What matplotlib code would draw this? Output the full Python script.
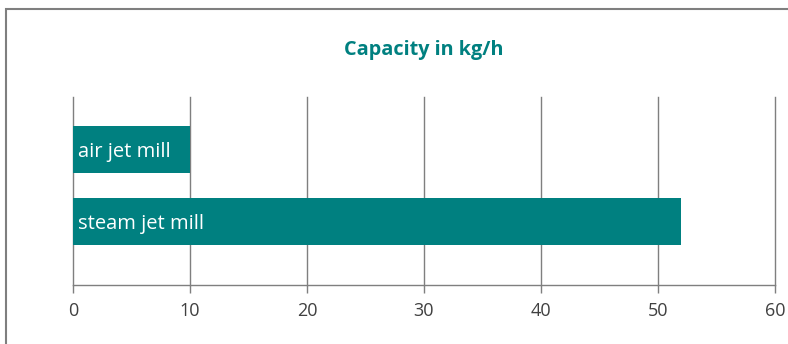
import matplotlib
matplotlib.use("Agg")
import matplotlib.pyplot as plt
from matplotlib.patches import Rectangle

mills = ["steam jet mill", "air jet mill"]
capacity = [52, 10]
ticks = [0, 10, 20, 30, 40, 50, 60]

teal = "#008080"
grey = "#7f7f7f"

plt.rcParams["font.family"] = ["Open Sans", "DejaVu Sans"]

fig = plt.figure(figsize=(7.88, 3.44), dpi=100)
ax = fig.add_axes([73 / 788, 59 / 344, 702 / 788, 188 / 344])

# frame around the whole chart (only left and top visible in the original)
fig.patches.append(Rectangle((5.5 / 788, -0.1), 1.2, (344 - 8.5) / 344 + 0.1,
                             transform=fig.transFigure, fill=False,
                             edgecolor=grey, linewidth=1.5, zorder=0))

ypos = list(range(len(mills)))
ax.barh(ypos, capacity, height=0.65, color=teal, zorder=3)
for y, name in zip(ypos, mills):
    ax.text(0.45, y, name, color="white", fontsize=14.5, va="center_baseline",
            ha="left", zorder=4)

ax.set_xlim(0, 60)
ax.set_ylim(-0.882, 1.729)
ax.set_xticks(ticks)
ax.set_yticks([])
ax.grid(axis="x", color=grey, linewidth=1)
for gl in ax.get_xgridlines():
    gl.set_clip_on(False)
ax.set_axisbelow(True)
for s in ["top", "right", "left"]:
    ax.spines[s].set_visible(False)
ax.spines["bottom"].set_color(grey)
ax.spines["bottom"].set_linewidth(1)
ax.tick_params(axis="x", length=6, width=1, color=grey, labelcolor="#404040",
               labelsize=13, pad=6)

fig.text(424 / 788, 1 - 50 / 344, "Capacity in kg/h", color=teal, fontsize=14.3,
         fontweight="bold", ha="center", va="center")

fig.savefig("out.png", dpi=100)
